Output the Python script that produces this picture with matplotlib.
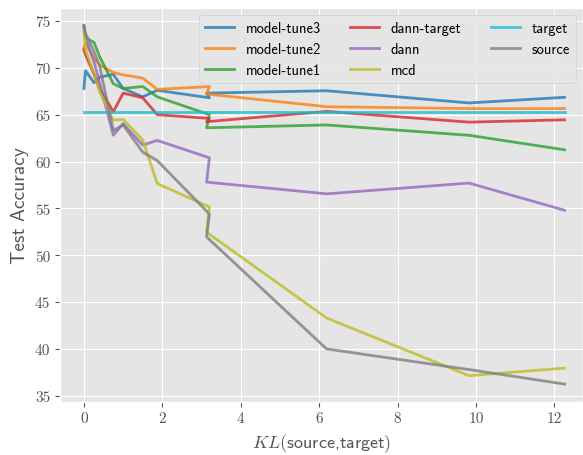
import matplotlib
matplotlib.use('Agg')
import matplotlib.pyplot as plt

plt.style.use('ggplot')
plt.rcParams['mathtext.fontset'] = 'cm'

# KL(source, target) for each run (in the order they were plotted)
kl = [0.0, 0.04, 0.26, 0.4, 0.75, 1.0, 1.5, 1.87, 3.2, 3.13, 6.19, 9.82, 12.26]

model_tune3 = [67.8, 69.7, 68.4, 69.0, 69.3, 67.8, 66.9, 67.6, 66.8, 67.3, 67.55, 66.25, 66.85]
model_tune2 = [72.1, 72.6, 71.0, 70.3, 69.5, 69.25, 68.9, 67.7, 68.0, 67.2, 65.85, 65.65, 65.65]
model_tune1 = [74.5, 73.2, 72.7, 71.2, 68.3, 67.8, 68.0, 66.9, 65.0, 63.6, 63.9, 62.8, 61.25]
dann_target = [71.9, 71.4, 69.3, 67.8, 65.3, 67.3, 66.8, 65.0, 64.6, 64.25, 65.35, 64.2, 64.45]
dann = [74.3, 73.2, 70.6, 68.4, 62.8, 64.05, 61.75, 62.25, 60.4, 57.8, 56.55, 57.7, 54.8]
mcd = [73.9, 72.0, 69.3, 67.45, 64.4, 64.5, 62.3, 57.65, 55.15, 52.45, 43.3, 37.15, 37.95]
target = [65.25] * len(kl)
source = [74.5, 73.7, 71.7, 70.2, 63.3, 63.9, 61.0, 60.1, 54.4, 51.95, 40.0, 37.8, 36.25]

series = [
    ('model-tune3', model_tune3, 'tab:blue'),
    ('model-tune2', model_tune2, 'tab:orange'),
    ('model-tune1', model_tune1, 'tab:green'),
    ('dann-target', dann_target, 'tab:red'),
    ('dann', dann, 'tab:purple'),
    ('mcd', mcd, 'tab:olive'),
    ('target', target, 'tab:cyan'),
    ('source', source, 'tab:gray'),
]

fig = plt.figure(figsize=(5.83, 4.56), dpi=100)
ax = fig.add_axes([60/583, 53/456, 523/583, 394.3/456])

for name, vals, c in series:
    ax.plot(kl, vals, color=c, alpha=0.8, lw=2, label=name)

ax.set_xlim(-0.61, 12.73)
ax.set_yticks([35, 40, 45, 50, 55, 60, 65, 70, 75])
ax.set_xticks([0, 2, 4, 6, 8, 10, 12])
for lab in ax.get_xticklabels() + ax.get_yticklabels():
    lab.set_fontfamily('cmr10')
    lab.set_fontsize(11)

ax.set_xlabel(r'$KL($source,target$)$', fontfamily='cmss10', fontsize=13, color='#555555')
ax.set_ylabel('Test Accuracy', fontfamily='cmss10', fontsize=14, color='#555555')

leg = ax.legend(ncol=3, loc='upper right', prop={'family': 'cmss10', 'size': 10.5})

fig.savefig('out.png', dpi=100)
